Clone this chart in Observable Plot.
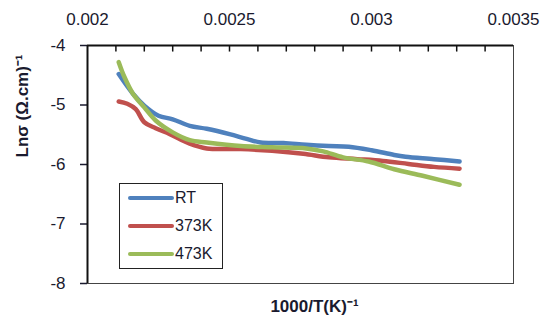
<!DOCTYPE html>
<html>
<head>
<meta charset="utf-8">
<script src="https://cdn.jsdelivr.net/npm/d3@7"></script>
<script src="https://cdn.jsdelivr.net/npm/@observablehq/plot@0.6"></script>
<style>
body { margin: 0; background: #fff; }
#wrap { position: relative; width: 544px; height: 320px; font-family: "Liberation Sans", Arial, sans-serif; }
#legend { position: absolute; left: 119px; top: 183px; width: 104px; height: 86px; border: 1.5px solid #222; background: #fff; box-sizing: border-box; }
.item { position: absolute; left: 8px; height: 16px; display: flex; align-items: center; font-size: 16px; color: #1a1a2e; }
.sw { width: 46px; height: 4px; border-radius: 2px; margin-right: 1px; }
</style>
</head>
<body>
<div id="wrap"></div>
<script>
const seriesNames = ["RT", "373K", "473K"];
const colors = ["#4F81BD", "#C0504D", "#9BBB59"];

const rtX = [0.00211, 0.00216, 0.00220, 0.00225, 0.00230, 0.00236, 0.00242, 0.00250, 0.00256, 0.00261, 0.00269, 0.00277, 0.00285, 0.00292, 0.00300, 0.00308, 0.00312, 0.00322, 0.00331];
const rtY = [-4.48, -4.81, -5.01, -5.18, -5.24, -5.35, -5.40, -5.49, -5.57, -5.63, -5.64, -5.67, -5.69, -5.70, -5.76, -5.84, -5.87, -5.91, -5.95];

const k373X = [0.00211, 0.00214, 0.00217, 0.00220, 0.00224, 0.00229, 0.00236, 0.00242, 0.00254, 0.00265, 0.00276, 0.00285, 0.00295, 0.00304, 0.00313, 0.00322, 0.00331];
const k373Y = [-4.94, -4.98, -5.07, -5.29, -5.39, -5.49, -5.65, -5.73, -5.74, -5.77, -5.82, -5.88, -5.91, -5.94, -5.99, -6.04, -6.07];

const k473X = [0.00211, 0.00213, 0.00216, 0.00220, 0.00224, 0.00230, 0.00236, 0.00242, 0.00254, 0.00265, 0.00277, 0.00283, 0.00290, 0.00299, 0.00308, 0.00318, 0.00331];
const k473Y = [-4.28, -4.53, -4.81, -5.04, -5.26, -5.46, -5.59, -5.63, -5.69, -5.71, -5.73, -5.78, -5.88, -5.95, -6.08, -6.19, -6.34];

const xMajorTicks = [0.002, 0.0025, 0.003, 0.0035];
const xTickLabels = ["0.002", "0.0025", "0.003", "0.0035"];
const yTicks = [-8, -7, -6, -5, -4];
const xTitle = "1000/T(K)\u207B\u00B9";
const yTitle = "Ln\u03C3 (\u03A9.cm)\u207B\u00B9";

const xs = [rtX, k373X, k473X];
const ys = [rtY, k373Y, k473Y];
const data = [];
seriesNames.forEach((s, i) => xs[i].forEach((x, j) => data.push({series: s, x, y: ys[i][j]})));

const minorTicks = d3.range(1, 15).map(i => 0.002 + i * 0.0001);

const chart = Plot.plot({
  width: 544,
  height: 320,
  marginLeft: 87,
  marginRight: 31,
  marginTop: 45,
  marginBottom: 37,
  style: {fontFamily: "Liberation Sans, Arial, sans-serif", fontSize: "17px", color: "#1a1a2e", background: "#fff"},
  x: {domain: [0.002, 0.0035], axis: null},
  y: {domain: [-8, -4], axis: null},
  color: {domain: seriesNames, range: colors},
  marks: [
    Plot.frame({stroke: "#444", strokeWidth: 1}),
    Plot.ruleX(minorTicks, {x: d => d, y1: -4, y2: -4.11, stroke: "#111", strokeWidth: 1.5}),
    Plot.axisX({anchor: "top", label: null, ticks: xMajorTicks, tickFormat: (d, i) => xTickLabels[i], tickSize: 0, tickPadding: 21, fontSize: 17}),
    Plot.axisY({anchor: "left", label: null, ticks: yTicks, tickFormat: d => String(d).replace("\u2212", "-"), tickSize: 7, tickPadding: 15, fontSize: 17, strokeWidth: 1.5}),
    Plot.ruleX([0.002], {stroke: "#111", strokeWidth: 2}),
    Plot.ruleY([-4], {stroke: "#111", strokeWidth: 2}),
    Plot.line(data, {x: "x", y: "y", z: "series", stroke: "series", strokeWidth: 4.5, curve: "catmull-rom"}),
    Plot.text([xTitle], {frameAnchor: "bottom", text: d => d, dy: 23, dx: 14, lineAnchor: "middle", fontWeight: "bold", fontSize: 17}),
    Plot.text([yTitle], {frameAnchor: "left", text: d => d, dx: -65, dy: -7, rotate: -90, fontWeight: "bold", fontSize: 17})
  ]
});

const wrap = document.getElementById("wrap");
wrap.appendChild(chart);

const legend = document.createElement("div");
legend.id = "legend";
const tops = [6, 34, 62];
seriesNames.forEach((s, i) => {
  const it = document.createElement("div");
  it.className = "item";
  it.style.top = tops[i] + "px";
  const sw = document.createElement("span");
  sw.className = "sw";
  sw.style.background = colors[i];
  const t = document.createElement("span");
  t.textContent = s;
  it.appendChild(sw);
  it.appendChild(t);
  legend.appendChild(it);
});
wrap.appendChild(legend);
</script>
</body>
</html>
